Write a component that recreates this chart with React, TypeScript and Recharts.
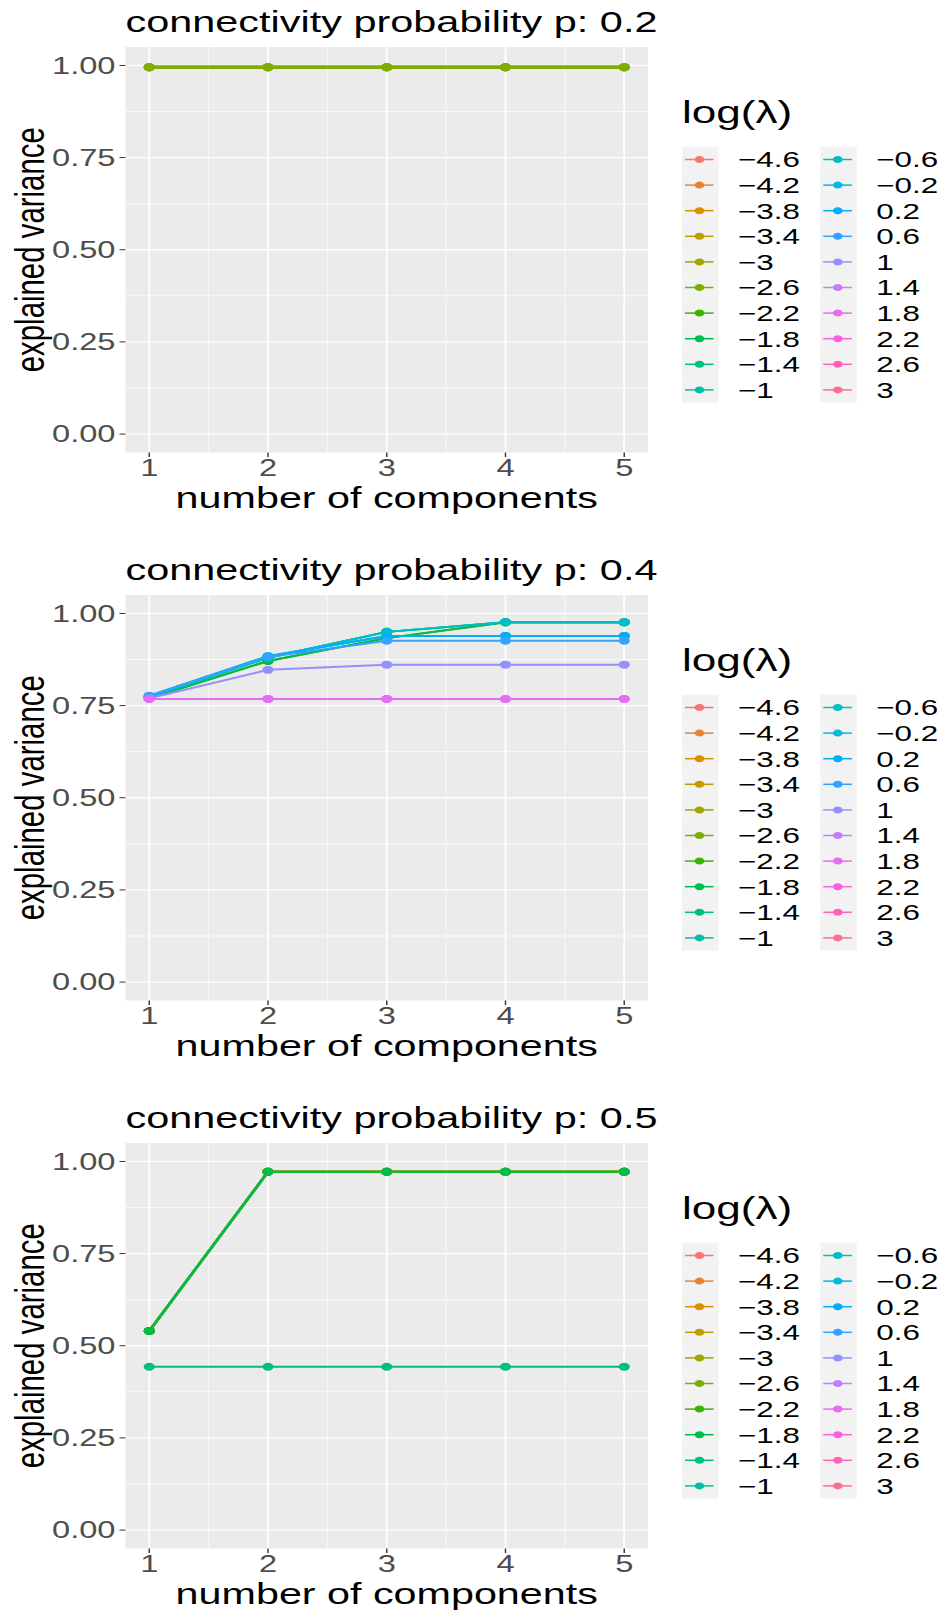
import React from 'react';
import { LineChart, Line, XAxis, YAxis, CartesianGrid, Customized } from 'recharts';

// horizontal stretch of the original figure
const S = 1.4;
const W = 942 / S;
const H = 548;
const px = (v: number) => v / S;

const FONT = '"Liberation Sans", Arial, Helvetica, sans-serif';

const COMPONENTS = [1, 2, 3, 4, 5];
const LAMBDAS = ['-4.6', '-4.2', '-3.8', '-3.4', '-3', '-2.6', '-2.2', '-1.8', '-1.4', '-1',
  '-0.6', '-0.2', '0.2', '0.6', '1', '1.4', '1.8', '2.2', '2.6', '3'];
const COLORS = ['#F8766D', '#EA8331', '#D89000', '#C09B00', '#A3A500', '#7CAE00', '#39B600', '#00BB4E',
  '#00BF7D', '#00C1A3', '#00BFC4', '#00BAE0', '#00B0F6', '#35A2FF', '#9590FF', '#C77CFF', '#E76BF3',
  '#FA62DB', '#FF62BC', '#FF6C91'];

const Y_TICKS = [0, 0.25, 0.5, 0.75, 1];
const Y_MINOR = [0.125, 0.375, 0.625, 0.875];
const X_MINOR = [1.5, 2.5, 3.5, 4.5];

// p = 0.2
const P2_FLAT = [0.995, 0.995, 0.995, 0.995, 0.995];
// p = 0.4
const P4_GREEN = [0.77, 0.871, 0.933, 0.976, 0.976];
const P4_TEAL = [0.774, 0.88, 0.95, 0.976, 0.976];
const P4_CYAN = [0.776, 0.884, 0.939, 0.939, 0.939];
const P4_BLUE = [0.777, 0.882, 0.926, 0.926, 0.926];
const P4_PURPLE = [0.77, 0.847, 0.861, 0.861, 0.861];
const P4_PINK = [0.768, 0.768, 0.768, 0.768, 0.768];
// p = 0.5
const P5_UPPER = [0.54, 0.972, 0.972, 0.972, 0.972];
const P5_LOWER = [0.443, 0.443, 0.443, 0.443, 0.443];

const N = null;
const SERIES_P02 = [P2_FLAT, P2_FLAT, P2_FLAT, P2_FLAT, P2_FLAT, P2_FLAT, N, N, N, N, N, N, N, N, N, N, N, N, N, N];
const SERIES_P04 = [N, N, N, N, N, N, P4_GREEN, P4_GREEN, P4_TEAL, P4_TEAL, P4_TEAL, P4_CYAN, P4_CYAN,
  P4_BLUE, P4_PURPLE, P4_PINK, P4_PINK, N, N, N];
const SERIES_P05 = [P5_UPPER, P5_UPPER, P5_UPPER, P5_UPPER, P5_UPPER, P5_UPPER, P5_UPPER, P5_UPPER,
  P5_LOWER, N, N, N, N, N, N, N, N, N, N, N];

const minus = (s: string) => s.replace('-', '\u2212');

const LegendBlock = () => (
  <g fontFamily={FONT}>
    <text x={px(682)} y={123} fontSize={31.5} fill="#000">log(λ)</text>
    {LAMBDAS.map((lab, i) => {
      const col = i < 10 ? 0 : 1;
      const row = i % 10;
      const x0 = 682 + col * 138.3;
      const cy = 159.5 + row * 25.6;
      return (
        <g key={lab}>
          <rect x={px(x0)} y={cy - 12.8} width={px(36.6)} height={25.6} fill="#F2F2F2" />
          <line x1={px(x0 + 3)} x2={px(x0 + 31.5)} y1={cy} y2={cy} stroke={COLORS[i]} strokeWidth={1.5} />
          <circle cx={px(x0 + 17.5)} cy={cy} r={3.5} fill={COLORS[i]} />
          <text x={px(x0 + 56)} y={cy + 8} fontSize={22.4} fill="#000">{minus(lab)}</text>
        </g>
      );
    })}
  </g>
);

const Panel = ({ title, series, lw }: { title: string; series: (number[] | null)[]; lw: number }) => {
  const data = COMPONENTS.map((c, k) => {
    const row: Record<string, number | null> = { x: c };
    series.forEach((s, i) => { row[`s${i}`] = s ? s[k] : null; });
    return row;
  });
  const tickStyle = { fill: '#4D4D4D', fontSize: 23.3, fontFamily: FONT };
  return (
    <div style={{ width: W, height: H, transform: `scaleX(${S})`, transformOrigin: '0 0' }}>
      <LineChart width={W} height={H} data={data} margin={{ top: 47, right: W - px(648), left: 0, bottom: 0 }}>
        <CartesianGrid fill="#EBEBEB" stroke="#FFFFFF" strokeWidth={0.6}
          horizontalValues={Y_MINOR} verticalValues={X_MINOR} />
        <CartesianGrid stroke="#FFFFFF" strokeWidth={1.3} fillOpacity={0}
          horizontalValues={Y_TICKS} verticalValues={COMPONENTS} />
        <XAxis dataKey="x" type="number" domain={[0.8, 5.2]} ticks={COMPONENTS} axisLine={false}
          tickLine={{ stroke: '#333333' }} tickSize={4.5} tickMargin={2} height={95.5} tick={tickStyle}
          label={{ value: 'number of components', position: 'insideBottom', offset: 40, fill: '#000',
            fontSize: 29.5, fontFamily: FONT }} />
        <YAxis type="number" domain={[-0.05, 1.05]} ticks={Y_TICKS} axisLine={false} width={px(125.5)}
          tickLine={{ stroke: '#333333' }} tickSize={px(6)} tickMargin={px(4)} tick={tickStyle}
          tickFormatter={(v: number) => v.toFixed(2)}
          label={{ value: 'explained variance', angle: -90, position: 'insideLeft', offset: px(29),
            style: { textAnchor: 'middle' }, fill: '#000', fontSize: 29.4, fontFamily: FONT }} />
        {series.map((s, i) => s ? (
          <Line key={i} dataKey={`s${i}`} stroke={COLORS[i]} strokeWidth={lw} isAnimationActive={false}
            dot={{ r: 4, fill: COLORS[i], stroke: COLORS[i], strokeWidth: 0 }} activeDot={false} />
        ) : null)}
        <Customized component={() => (
          <text x={px(125.5)} y={31.7} fontSize={29.6} fontFamily={FONT} fill="#000">{title}</text>
        )} />
        <Customized component={LegendBlock} />
      </LineChart>
    </div>
  );
};

export default function App() {
  return (
    <div style={{ width: 942, height: 1612, overflow: 'hidden', background: '#fff' }}>
      <style>{'body{margin:0}'}</style>
      <Panel title="connectivity probability p: 0.2" series={SERIES_P02} lw={3} />
      <Panel title="connectivity probability p: 0.4" series={SERIES_P04} lw={2} />
      <Panel title="connectivity probability p: 0.5" series={SERIES_P05} lw={2} />
    </div>
  );
}
